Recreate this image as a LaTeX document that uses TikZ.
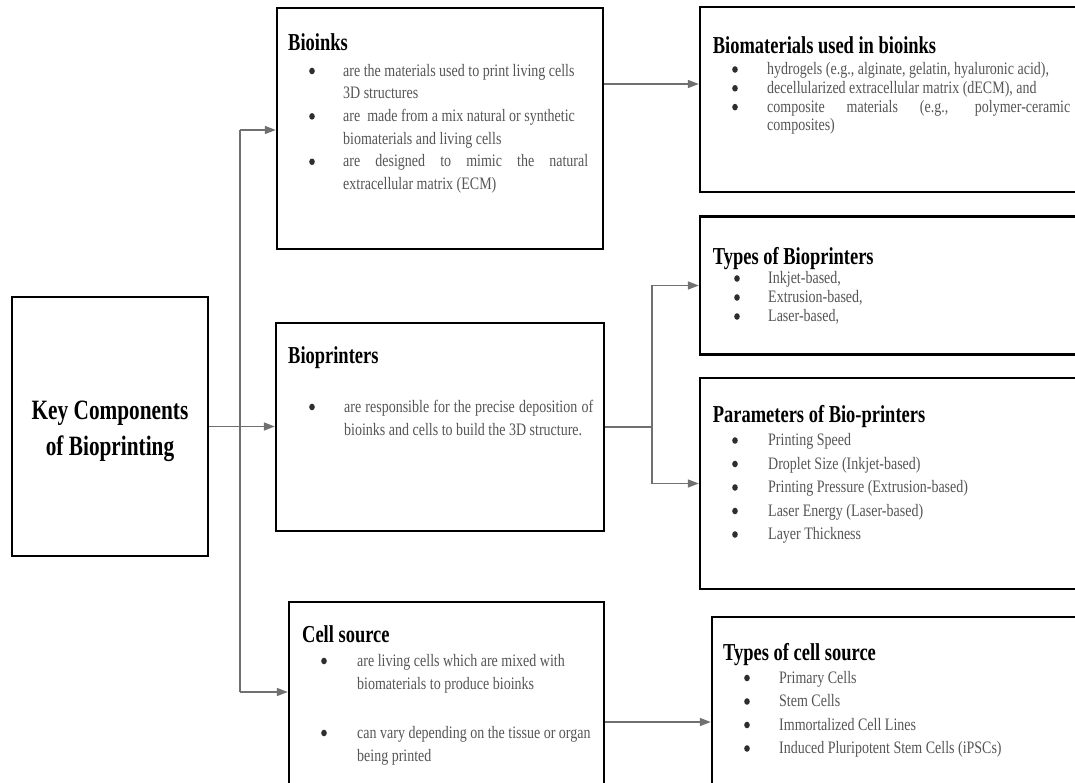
\documentclass[tikz,border=0pt]{standalone}
\usepackage{fontspec}
\setmainfont{Liberation Serif}[FakeStretch=0.8]
\newfontfamily\headfont{Liberation Serif}[FakeStretch=0.76]
\usetikzlibrary{arrows.meta,shapes.geometric}
\definecolor{txtgray}{HTML}{555555}
\definecolor{bulgray}{HTML}{2E2E2E}
\definecolor{linegray}{HTML}{707070}
\newcommand\jline[2]{\makebox[#1][s]{#2}}
\begin{document}
\begin{tikzpicture}[x=1pt,y=-1pt,
  box/.style={draw=black, line width=2.4pt, inner sep=0pt, rectangle},
  head/.style={anchor=base west, inner sep=0pt, text=black, font=\headfont\fontsize{24.3}{28}\selectfont\bfseries},
  txt/.style={anchor=base west, inner sep=0pt, text=txtgray, font=\fontsize{17.5}{21}\selectfont},
  bul/.style={ellipse, fill=bulgray, inner sep=0pt, minimum width=5.6pt, minimum height=6.6pt, yshift=5pt},
  conn/.style={draw=linegray, line width=1.5pt},
  arr/.style={conn, -{Triangle[length=11pt,width=8pt]}}]
\useasboundingbox (0,0) rectangle (1075,782);
\clip (0,0) rectangle (1075,782);

% boxes
\node[box, minimum width=196pt, minimum height=259pt] (key) at (110,426.5) {};
\node[inner sep=0pt, align=center, font=\headfont\fontsize{28}{36}\selectfont\bfseries] (keytext) at (110,431) {Key Components\\of Bioprinting};
\node[box, minimum width=326pt, minimum height=241pt] (bioinks) at (440,128.5) {};
\node[box, minimum width=328pt, minimum height=208pt] (bioprinters) at (440,427) {};
\node[box, minimum width=315pt, minimum height=198pt] (cell) at (446.5,701) {};
\node[box, minimum width=390pt, minimum height=185pt] (biomat) at (895,99.5) {};
\node[box, minimum width=390pt, minimum height=138pt] (typesbp) at (895,285.5) {};
\node[box, minimum width=390pt, minimum height=211pt] (params) at (895,483.5) {};
\node[box, minimum width=378pt, minimum height=183pt] (typescell) at (901,708.5) {};

% connectors
\coordinate (t1) at (240,130);
\coordinate (t2) at (240,692);
\coordinate (y84) at (0,84);
\coordinate (y722) at (0,722);
\coordinate (br) at (652,427);
\draw[arr] (key.east) -- (key.east -| bioprinters.west);
\draw[conn] (t1) -- (t2);
\draw[arr] (t1) -- (t1 -| bioinks.west);
\draw[arr] (t2) -- (t2 -| cell.west);
\draw[arr] (bioinks.east |- y84) -- (biomat.west |- y84);
\draw[conn] (bioprinters.east) -- (bioprinters.east -| br);
\draw[arr] (bioprinters.east -| br) |- (typesbp.west);
\draw[arr] (bioprinters.east -| br) |- (params.west);
\draw[arr] (cell.east |- y722) -- (typescell.west |- y722);

% Bioinks
\node[head] (h1) at (288,50) {Bioinks};
\node[bul] (b1a) at (312,76) {};
\node[bul] (b1b) at (312,121.4) {};
\node[bul] (b1c) at (312,166.8) {};
\node[txt] (l1a) at (343,76) {are the materials used to print living cells};
\node[txt] (l1b) at (343,98.7) {3D structures};
\node[txt] (l1c) at (343,121.4) {are \ made from a mix natural or synthetic};
\node[txt] (l1d) at (343,144.1) {biomaterials and living cells};
\node[txt] (l1e) at (343,166.8) {\jline{245pt}{are designed to mimic the natural}};
\node[txt] (l1f) at (343,189.5) {extracellular matrix (ECM)};

% Biomaterials
\node[head] (h2) at (712.7,53) {Biomaterials used in bioinks};
\node[bul] (b2a) at (735,74.5) {};
\node[bul] (b2b) at (735,93.3) {};
\node[bul] (b2c) at (735,112.1) {};
\node[txt] (l2a) at (767,74.5) {hydrogels (e.g., alginate, gelatin, hyaluronic acid),};
\node[txt] (l2b) at (767,93.3) {decellularized extracellular matrix (dECM), and};
\node[txt] (l2c) at (767,112.1) {\jline{303pt}{composite materials (e.g., polymer-ceramic}};
\node[txt] (l2d) at (767,130.9) {composites)};

% Types of Bioprinters
\node[head] (h3) at (712.7,264) {Types of Bioprinters};
\node[bul] (b3a) at (737,283.5) {};
\node[bul] (b3b) at (737,302.5) {};
\node[bul] (b3c) at (737,321.5) {};
\node[txt] (l3a) at (768,283.5) {Inkjet-based,};
\node[txt] (l3b) at (768,302.5) {Extrusion-based,};
\node[txt] (l3c) at (768,321.5) {Laser-based,};

% Parameters
\node[head] (h4) at (712.7,422) {Parameters of Bio-printers};
\node[bul] (b4a) at (735,445.5) {};
\node[bul] (b4b) at (735,469) {};
\node[bul] (b4c) at (735,492.5) {};
\node[bul] (b4d) at (735,516) {};
\node[bul] (b4e) at (735,539.5) {};
\node[txt] (l4a) at (768,445.5) {Printing Speed};
\node[txt] (l4b) at (768,469) {Droplet Size (Inkjet-based)};
\node[txt] (l4c) at (768,492.5) {Printing Pressure (Extrusion-based)};
\node[txt] (l4d) at (768,516) {Laser Energy (Laser-based)};
\node[txt] (l4e) at (768,539.5) {Layer Thickness};

% Bioprinters
\node[head] (h5) at (288,363) {Bioprinters};
\node[bul] (b5a) at (312,412) {};
\node[txt] (l5a) at (344,412) {\jline{249pt}{are responsible for the precise deposition of}};
\node[txt] (l5b) at (344,435.5) {bioinks and cells to build the 3D structure.};

% Cell source
\node[head] (h6) at (302,642) {Cell source};
\node[bul] (b6a) at (324,666) {};
\node[bul] (b6b) at (324,738) {};
\node[txt] (l6a) at (357,666) {are living cells which are mixed with};
\node[txt] (l6b) at (357,689) {biomaterials to produce bioinks};
\node[txt] (l6c) at (357,738) {can vary depending on the tissue or organ};
\node[txt] (l6d) at (357,761) {being printed};

% Types of cell source
\node[head] (h7) at (723,660) {Types of cell source};
\node[bul] (b7a) at (747,683) {};
\node[bul] (b7b) at (747,706.5) {};
\node[bul] (b7c) at (747,730) {};
\node[bul] (b7d) at (747,753.5) {};
\node[txt] (l7a) at (779,683) {Primary Cells};
\node[txt] (l7b) at (779,706.5) {Stem Cells};
\node[txt] (l7c) at (779,730) {Immortalized Cell Lines};
\node[txt] (l7d) at (779,753.5) {Induced Pluripotent Stem Cells (iPSCs)};
\end{tikzpicture}
\end{document}
